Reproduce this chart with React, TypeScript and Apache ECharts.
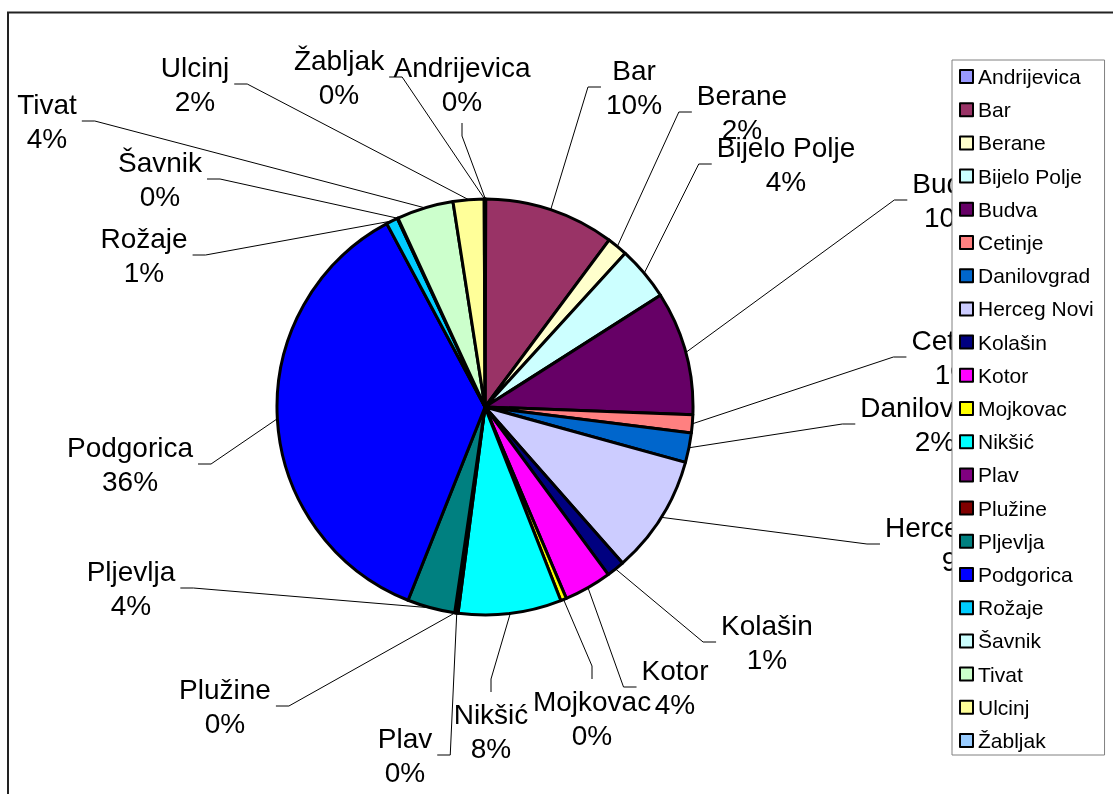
import React, { useEffect, useRef } from 'react';
import * as echarts from 'echarts';

const categories = [
  'Andrijevica', 'Bar', 'Berane', 'Bijelo Polje', 'Budva', 'Cetinje', 'Danilovgrad',
  'Herceg Novi', 'Kolašin', 'Kotor', 'Mojkovac', 'Nikšić', 'Plav', 'Plužine',
  'Pljevlja', 'Podgorica', 'Rožaje', 'Šavnik', 'Tivat', 'Ulcinj', 'Žabljak',
];
const values = [
  0.06, 10.1, 1.6, 4.2, 9.6, 1.4, 2.3,
  9.2, 1.4, 3.7, 0.45, 8.0, 0.2, 0.06,
  3.7, 36.1, 0.9, 0.06, 4.4, 2.4, 0.06,
];
const colors = [
  '#9999FF', '#993366', '#FFFFCC', '#CCFFFF', '#660066', '#FF8080', '#0066CC',
  '#CCCCFF', '#000080', '#FF00FF', '#FFFF00', '#00FFFF', '#800080', '#800000',
  '#008080', '#0000FF', '#00CCFF', '#CCFFFF', '#CCFFCC', '#FFFF99', '#99CCFF',
];
// label layout (centre of each two-line label block) and the side the leader line attaches to
const labelCenters = [
  [462, 84], [634, 87], [742, 112], [786, 164], [952, 200], [955, 357], [935, 424],
  [962, 544], [767, 642], [675, 687], [592, 718], [491, 731], [405, 755], [225, 706],
  [131, 588], [130, 464], [144, 255], [160, 179], [47, 121], [195, 84], [339, 77],
];
const labelSides = [
  'bottom', 'left', 'left', 'left', 'left', 'left', 'left',
  'left', 'left', 'left', 'top', 'top', 'right', 'right',
  'right', 'right', 'right', 'right', 'right', 'right', 'right',
];

const FONT = "'Liberation Sans', Arial, sans-serif";

export default function App() {
  const ref = useRef<HTMLDivElement>(null);
  useEffect(() => {
    const chart = echarts.init(ref.current!, null, { renderer: 'svg' });
    const total = values.reduce((a, b) => a + b, 0);
    const CX = 485, CY = 407, R = 208;
    const cum: number[] = [];
    let acc = 0;
    values.forEach((v) => { cum.push(acc + v / 2); acc += v; });

    chart.setOption({
      animation: false,
      graphic: [
        {
          type: 'rect', silent: true, z: -10,
          shape: { x: 8, y: 12.5, width: 1200, height: 900 },
          style: { fill: 'none', stroke: '#222', lineWidth: 2 },
        },
      ],
      legend: {
        orient: 'vertical',
        left: 952,
        top: 60,
        padding: [6, 11, 4, 7],
        backgroundColor: '#fff',
        borderColor: '#808080',
        borderWidth: 1,
        itemWidth: 13,
        itemHeight: 13,
        itemGap: 12.2,
        itemTextGap: 5,
        icon: 'rect',
        selectedMode: false,
        itemStyle: { borderColor: '#000', borderWidth: 2 },
        textStyle: { fontSize: 21, lineHeight: 21, color: '#000', fontFamily: FONT },
        data: categories,
      },
      series: [
        {
          type: 'pie',
          center: [CX, CY],
          radius: R,
          startAngle: 90,
          clockwise: true,
          avoidLabelOverlap: false,
          emphasis: { disabled: true },
          itemStyle: { borderColor: '#000', borderWidth: 3 },
          data: categories.map((n, i) => ({ name: n, value: values[i], itemStyle: { color: colors[i] } })),
          label: {
            show: true,
            position: 'outside',
            formatter: (p: any) => `${p.name}\n${Math.round((p.value / total) * 100)}%`,
            fontSize: 28,
            lineHeight: 34,
            color: '#000',
            fontFamily: FONT,
          },
          labelLine: { show: true, length: 10, length2: 10, lineStyle: { color: '#000', width: 1 } },
          labelLayout: (params: any) => {
            const i = params.dataIndex;
            const [cx, cy] = labelCenters[i];
            const w = params.labelRect.width;
            const h = params.labelRect.height;
            const pad = 5, tick = 13;
            let p1: number[], p2: number[];
            switch (labelSides[i]) {
              case 'left': p2 = [cx - w / 2 - pad, cy]; p1 = [p2[0] - tick, cy]; break;
              case 'right': p2 = [cx + w / 2 + pad, cy]; p1 = [p2[0] + tick, cy]; break;
              case 'top': p2 = [cx, cy - h / 2 - pad]; p1 = [cx, p2[1] - tick]; break;
              default: p2 = [cx, cy + h / 2 + pad]; p1 = [cx, p2[1] + tick];
            }
            const a = (cum[i] / total) * Math.PI * 2;
            const p0 = [CX + R * Math.sin(a), CY - R * Math.cos(a)];
            return {
              x: cx, y: cy, align: 'center', verticalAlign: 'middle',
              labelLinePoints: [p0, p1, p2],
            };
          },
        },
      ],
    });
    return () => chart.dispose();
  }, []);
  return <div ref={ref} style={{ position: 'fixed', left: 0, top: 0, width: 1113, height: 794 }} />;
}
